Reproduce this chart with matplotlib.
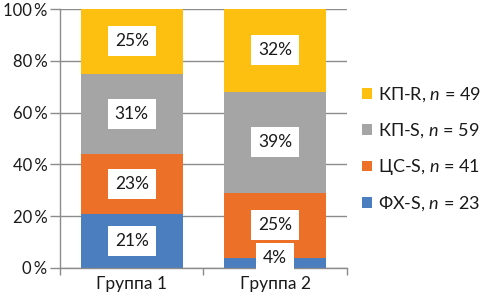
import matplotlib
matplotlib.use("Agg")
import matplotlib.pyplot as plt
import numpy as np

plt.rcParams["font.family"] = ["Lato", "DejaVu Sans"]
plt.rcParams["mathtext.fontset"] = "custom"
plt.rcParams["mathtext.it"] = "Lato:italic"
plt.rcParams["mathtext.rm"] = "Lato"

# data
groups = ["Группа 1", "Группа 2"]
series = ["ФХ-S, $\\it{n}$ = 23", "ЦС-S, $\\it{n}$ = 41", "КП-S, $\\it{n}$ = 59", "КП-R, $\\it{n}$ = 49"]
fx_s = [21, 4]
cs_s = [23, 25]
kp_s = [31, 39]
kp_r = [25, 32]
colors = ["#4a7ebf", "#ec7027", "#a5a5a5", "#fdc010"]
yticks = [0, 20, 40, 60, 80, 100]

fig = plt.figure(figsize=(4.85, 2.96), dpi=100)
ax = fig.add_axes([60 / 485, 1 - 268 / 296, 287 / 485, 259 / 296])

x = np.arange(len(groups))
bottom = np.zeros(len(groups))
handles = []
for vals, col, lab in zip([fx_s, cs_s, kp_s, kp_r], colors, series):
    vals = np.array(vals, dtype=float)
    h = ax.bar(x, vals, width=0.71, bottom=bottom, color=col, label=lab, zorder=2)
    handles.append(h)
    for xi, b, v in zip(x, bottom, vals):
        # keep small labels inside the plot area, as excel does
        ax.text(xi, max(b + v / 2, 4), f"{int(v)}%", ha="center", va="center", fontsize=12.5,
                color="#1a1a1a", zorder=4,
                bbox=dict(facecolor="white", edgecolor="none", boxstyle="square,pad=0.4"))
    bottom += vals

ax.set_ylim(0, 100)
ax.set_xlim(-0.5, 1.5)
ax.set_yticks(yticks)
ax.set_yticklabels([f"{t}\u2009%" for t in yticks], fontsize=12, color="#1a1a1a")
ax.yaxis.grid(True, color="#8c8c8c", linewidth=1, zorder=0)
ax.tick_params(axis="y", length=7, color="#8c8c8c", width=1, pad=2)
ax.set_xticks(x)
ax.set_xticklabels(groups, fontsize=12.5, color="#1a1a1a")
ax.set_xticks([-0.5, 0.5, 1.5], minor=True)
ax.tick_params(axis="x", which="major", length=0, pad=6)
ax.tick_params(axis="x", which="minor", length=5, color="#8c8c8c", width=1)
for s in ["top", "right"]:
    ax.spines[s].set_visible(False)
for s in ["left", "bottom"]:
    ax.spines[s].set_color("#8c8c8c")
    ax.spines[s].set_linewidth(1)

leg = ax.legend(handles[::-1], series[::-1], loc="center left", bbox_to_anchor=(0.995, 0.458),
                frameon=False, fontsize=13, handlelength=0.55, handleheight=0.55,
                handletextpad=0.35, labelspacing=0.95, labelcolor="#1a1a1a")

fig.savefig("out.png", dpi=100)
